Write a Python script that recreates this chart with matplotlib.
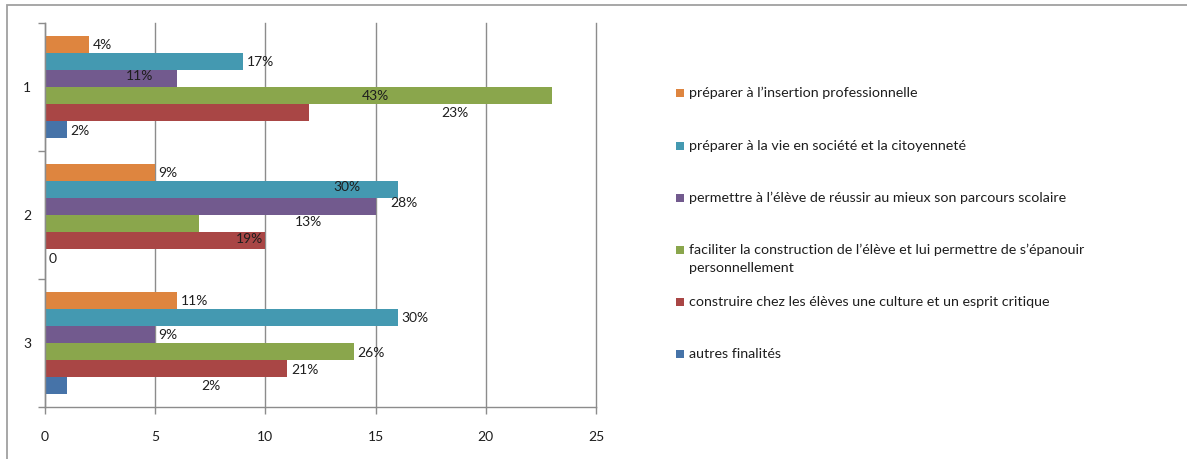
import matplotlib
matplotlib.use("Agg")
import matplotlib.pyplot as plt
from matplotlib.patches import Rectangle
import numpy as np

plt.rcParams['font.family'] = ['Lato', 'DejaVu Sans']

# ---- data ----
categories = ["1", "2", "3"]
series_names = [
    "préparer à l\u2019insertion professionnelle",
    "préparer à la vie en société et la citoyenneté",
    "permettre à l\u2019élève de réussir au mieux son parcours scolaire",
    "faciliter la construction de l\u2019élève et lui permettre de s\u2019épanouir\npersonnellement",
    "construire chez les élèves une culture et un esprit critique",
    "autres finalités",
]
colors = ["#DE853F", "#4499B1", "#725A8E", "#8AA64C", "#A94645", "#4673A8"]

# values[series][category]
insertion = [2, 5, 6]
societe = [9, 16, 16]
reussir = [6, 15, 5]
faciliter = [23, 7, 14]
culture = [12, 10, 11]
autres = [1, 0, 1]
values = [insertion, societe, reussir, faciliter, culture, autres]

lab_insertion = ["4%", "9%", "11%"]
lab_societe = ["17%", "30%", "30%"]
lab_reussir = ["11%", "28%", "9%"]
lab_faciliter = ["43%", "13%", "26%"]
lab_culture = ["23%", "19%", "21%"]
lab_autres = ["2%", "0", "2%"]
labels = [lab_insertion, lab_societe, lab_reussir, lab_faciliter, lab_culture, lab_autres]

x_ticks = [0, 5, 10, 15, 20, 25]

# ---- layout: label placements that were moved in the original (series, category) -> (x centre, dy px up)
label_moves = {
    (2, 0): (4.31, 2.3),
    (3, 0): (14.97, -0.8),
    (4, 0): (18.6, 0.0),
    (1, 1): (13.7, 2.7),
    (2, 1): (16.3, 3.7),
    (3, 1): (11.97, 1.6),
    (4, 1): (9.28, 2.0),
    (5, 2): (7.51, 0.0),
}

W, H = 1187, 459
fig = plt.figure(figsize=(W / 100, H / 100), dpi=100)
fig.patch.set_facecolor("white")

# outer frame (top + left visible)
fig.add_artist(Rectangle((7 / W, -0.1), 1.2, (459 - 5) / H + 0.1, transform=fig.transFigure,
                         fill=False, edgecolor="#A0A0A0", linewidth=1.3))

left, right, top, bottom = 45, 596, 23, 407
ax = fig.add_axes([left / W, (H - bottom) / H, (right - left) / W, (bottom - top) / H])

n = len(values)
group_w = 0.8
bh = group_w / n
cat_pos = np.arange(len(categories))
grid_c = "#8C8C8C"
txt_c = "#1E1E1E"
fs = 10
fs_leg = 10.3

for i in range(n):
    ys = cat_pos - group_w / 2 + (i + 0.5) * bh
    ax.barh(ys, values[i], height=bh, color=colors[i], edgecolor="none", zorder=3)
    for j, (v, y) in enumerate(zip(values[i], ys)):
        if (i, j) in label_moves:
            xc, dy = label_moves[(i, j)]
            ax.annotate(labels[i][j], (xc, y), xytext=(0, dy * 0.72), textcoords="offset points",
                        ha="center", va="center", fontsize=fs, color=txt_c, zorder=5)
        else:
            ax.annotate(labels[i][j], (v, y), xytext=(2.5, -0.7), textcoords="offset points",
                        ha="left", va="center", fontsize=fs, color=txt_c, zorder=5)

ax.set_xlim(0, 25)
ax.set_ylim(len(categories) - 0.5, -0.5)
ax.set_xticks(x_ticks)
ax.set_xticklabels([str(t) for t in x_ticks], fontsize=fs, color=txt_c)
ax.set_yticks(cat_pos)
ax.set_yticklabels(categories, fontsize=fs, color=txt_c)
ax.yaxis.set_minor_locator(matplotlib.ticker.FixedLocator(np.arange(-0.5, len(categories), 1.0)))
ax.tick_params(axis="y", which="major", length=0, pad=10)
ax.tick_params(axis="y", which="minor", length=5, color=grid_c, width=1)
ax.tick_params(axis="x", which="major", length=5, color=grid_c, width=1, pad=12)

ax.grid(axis="x", color=grid_c, linewidth=1, zorder=0)
for gl in ax.get_xgridlines():
    gl.set_clip_on(False)
for s in ["top", "right"]:
    ax.spines[s].set_visible(False)
for s in ["left", "bottom"]:
    ax.spines[s].set_color(grid_c)
    ax.spines[s].set_linewidth(1)
    ax.spines[s].set_zorder(4)

# ---- legend (manual, right side) ----
leg_y = [92.5, 145.7, 197.5, 249.5, 302, 354]
mk = 8
tx = 689
for i in range(n):
    yc = leg_y[i]
    fig.add_artist(Rectangle((676 / W, (H - yc - mk / 2) / H), mk / W, mk / H,
                             transform=fig.transFigure, facecolor=colors[i], edgecolor="none"))
    lines = series_names[i].split("\n")
    for k, line in enumerate(lines):
        fig.text(tx / W, (H - yc - 18 * k) / H, line, ha="left", va="center", fontsize=fs_leg, color=txt_c)

fig.savefig("out.png", dpi=100, facecolor="white")
